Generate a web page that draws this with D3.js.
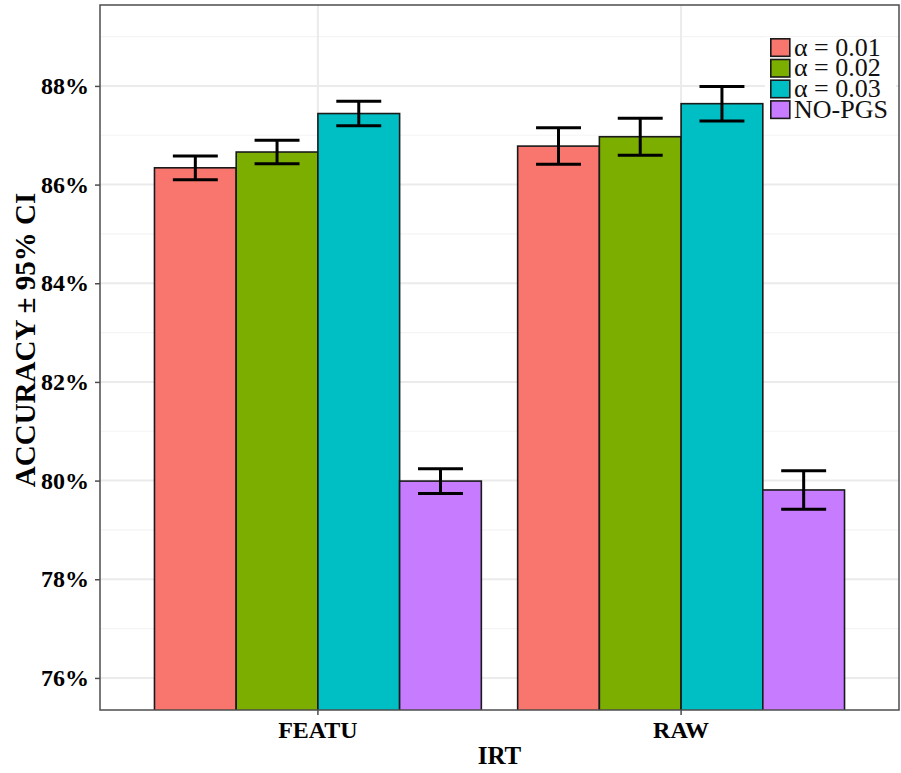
<!DOCTYPE html>
<html>
<head>
<meta charset="utf-8">
<script src="https://cdn.jsdelivr.net/npm/d3@7"></script>
<style>
  html, body { margin: 0; padding: 0; background: #ffffff; }
  svg { display: block; }
  text { font-family: "Liberation Serif", "Times New Roman", serif; }
</style>
</head>
<body>
<svg id="chart" width="901" height="773"></svg>
<script>
// Accuracy (%) with 95% confidence half-widths, by IRT input and method
const categories = ["FEATU", "RAW"];
const groups = ["α = 0.01", "α = 0.02", "α = 0.03", "NO-PGS"];
const groupColors = ["#F8766D", "#7CAE00", "#00BFC4", "#C77CFF"];
const featuMeans = [86.34, 86.66, 87.44, 79.99];
const featuCI = [0.24, 0.24, 0.25, 0.25];
const rawMeans = [86.78, 86.97, 87.64, 79.81];
const rawCI = [0.37, 0.375, 0.35, 0.39];
const yTicks = [76, 78, 80, 82, 84, 86, 88];
const yMinor = [77, 79, 81, 83, 85, 87, 89];

const rows = [];
[[featuMeans, featuCI], [rawMeans, rawCI]].forEach(([means, ci], i) => {
  means.forEach((m, j) => rows.push({ cat: categories[i], group: groups[j], mean: m, ci: ci[j] }));
});

const svg = d3.select("#chart");
const panel = { left: 100, right: 899, top: 5, bottom: 710 };

const x = d3.scaleBand().domain(categories)
  .range([panel.left, panel.right]).paddingInner(0.1).paddingOuter(0.15);
const xGroup = d3.scaleBand().domain(groups).range([0, x.bandwidth()]);
const y = d3.scaleLinear().domain([75.35, 89.64]).range([panel.bottom, panel.top]);
const color = d3.scaleOrdinal().domain(groups).range(groupColors);

svg.append("defs").append("clipPath").attr("id", "panelClip")
  .append("rect")
  .attr("x", panel.left).attr("y", panel.top)
  .attr("width", panel.right - panel.left).attr("height", panel.bottom - panel.top);

// grid
const grid = svg.append("g");
grid.selectAll("line.minor").data(yMinor).join("line")
  .attr("x1", panel.left).attr("x2", panel.right)
  .attr("y1", d => y(d)).attr("y2", d => y(d))
  .attr("stroke", "#f4f4f4").attr("stroke-width", 1.2);
grid.selectAll("line.major").data(yTicks).join("line")
  .attr("x1", panel.left).attr("x2", panel.right)
  .attr("y1", d => y(d)).attr("y2", d => y(d))
  .attr("stroke", "#ebebeb").attr("stroke-width", 2);
grid.selectAll("line.vmajor").data(categories).join("line")
  .attr("x1", d => x(d) + x.bandwidth() / 2).attr("x2", d => x(d) + x.bandwidth() / 2)
  .attr("y1", panel.top).attr("y2", panel.bottom)
  .attr("stroke", "#ebebeb").attr("stroke-width", 2);

// bars
const plot = svg.append("g").attr("clip-path", "url(#panelClip)");
plot.selectAll("rect.bar").data(rows).join("rect")
  .attr("x", d => x(d.cat) + xGroup(d.group))
  .attr("y", d => y(d.mean))
  .attr("width", xGroup.bandwidth())
  .attr("height", d => panel.bottom + 5 - y(d.mean))
  .attr("fill", d => color(d.group))
  .attr("stroke", "#1a1a1a").attr("stroke-width", 1.6);

// error bars
const capHalf = xGroup.bandwidth() * 0.275;
const eb = plot.selectAll("g.err").data(rows).join("g")
  .attr("transform", d => `translate(${x(d.cat) + xGroup(d.group) + xGroup.bandwidth() / 2},0)`);
eb.append("line").attr("x1", 0).attr("x2", 0)
  .attr("y1", d => y(d.mean + d.ci)).attr("y2", d => y(d.mean - d.ci))
  .attr("stroke", "#000").attr("stroke-width", 3);
eb.append("line").attr("x1", -capHalf).attr("x2", capHalf)
  .attr("y1", d => y(d.mean + d.ci)).attr("y2", d => y(d.mean + d.ci))
  .attr("stroke", "#000").attr("stroke-width", 3);
eb.append("line").attr("x1", -capHalf).attr("x2", capHalf)
  .attr("y1", d => y(d.mean - d.ci)).attr("y2", d => y(d.mean - d.ci))
  .attr("stroke", "#000").attr("stroke-width", 3);

// panel border
svg.append("rect")
  .attr("x", panel.left).attr("y", panel.top)
  .attr("width", panel.right - panel.left).attr("height", panel.bottom - panel.top)
  .attr("fill", "none").attr("stroke", "#4d4d4d").attr("stroke-width", 1.5);

// axes
const yAxis = svg.append("g").attr("transform", `translate(${panel.left},0)`)
  .call(d3.axisLeft(y).tickValues(yTicks).tickSize(5).tickPadding(6).tickFormat(d => d + "%"));
yAxis.select(".domain").remove();
yAxis.selectAll(".tick line").attr("stroke", "#4d4d4d").attr("stroke-width", 1.5);
yAxis.selectAll(".tick text").attr("fill", "#000")
  .style("font-family", "'Liberation Serif', serif").style("font-weight", "bold").style("font-size", "24px");

const xAxis = svg.append("g").attr("transform", `translate(0,${panel.bottom})`)
  .call(d3.axisBottom(x).tickSize(5).tickPadding(6));
xAxis.select(".domain").remove();
xAxis.selectAll(".tick line").attr("stroke", "#4d4d4d").attr("stroke-width", 1.5);
xAxis.selectAll(".tick text").attr("fill", "#000")
  .style("font-family", "'Liberation Serif', serif").style("font-weight", "bold").style("font-size", "24px");

// axis titles
svg.append("text")
  .attr("x", (panel.left + panel.right) / 2).attr("y", 764)
  .attr("text-anchor", "middle")
  .style("font-weight", "bold").style("font-size", "25px")
  .text("IRT");
svg.append("text")
  .attr("transform", `translate(35,340) rotate(-90)`)
  .attr("text-anchor", "middle")
  .style("font-weight", "bold").style("font-size", "29px")
  .text("ACCURACY ± 95% CI");

// legend
const legend = svg.append("g");
legend.append("rect").attr("x", 765).attr("y", 37).attr("width", 131).attr("height", 84)
  .attr("fill", "#ffffff");
const li = legend.selectAll("g.item").data(groups).join("g")
  .attr("transform", (d, i) => `translate(770,${38 + i * 20.7})`);
li.append("rect").attr("x", 0.8).attr("y", 0.8).attr("width", 19).attr("height", 17.5)
  .attr("fill", d => color(d)).attr("stroke", "#1a1a1a").attr("stroke-width", 1.6);
li.append("text").attr("x", 24).attr("y", 17.5)
  .style("font-size", "26px").attr("fill", "#111")
  .text(d => d);
</script>
</body>
</html>
